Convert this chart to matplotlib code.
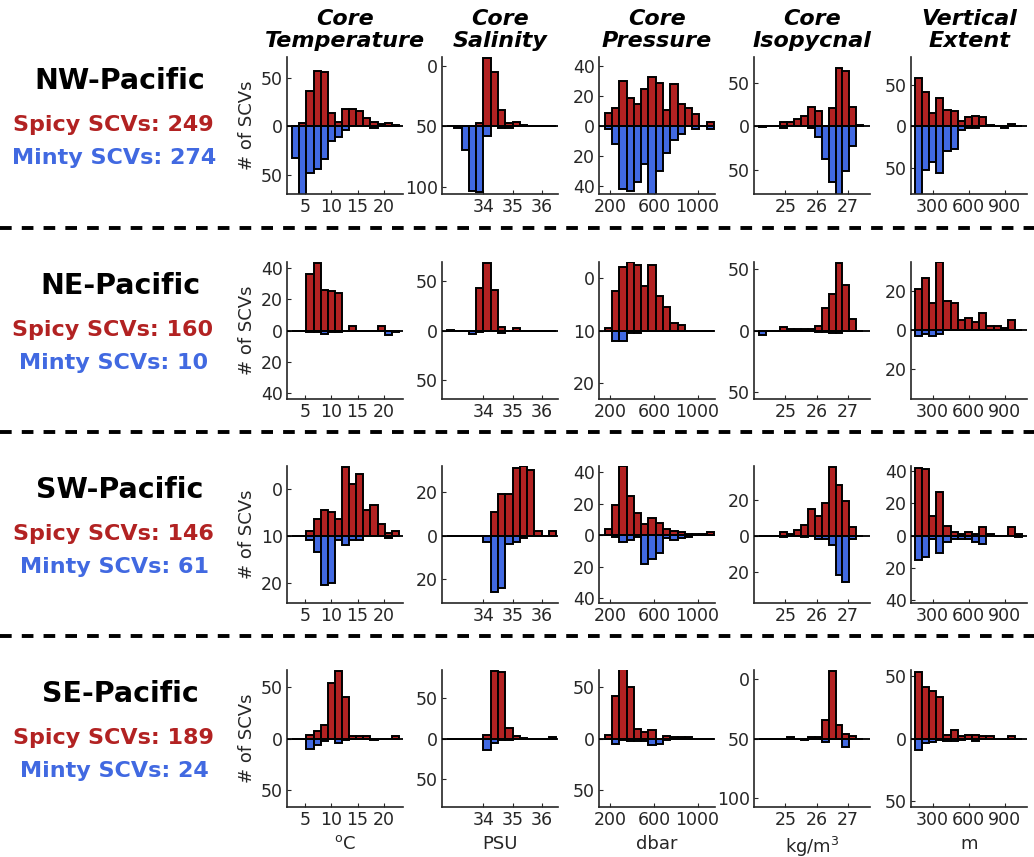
import numpy as np
import matplotlib
matplotlib.use('Agg')
import matplotlib.pyplot as plt
from matplotlib.lines import Line2D

# ---- data -------------------------------------------------------------
regions = ['NW-Pacific', 'NE-Pacific', 'SW-Pacific', 'SE-Pacific']
n_spicy = [249, 160, 146, 189]
n_minty = [274, 10, 61, 24]

col_titles = ['Core\nTemperature', 'Core\nSalinity', 'Core\nPressure',
              'Core\nIsopycnal', 'Vertical\nExtent']
units = [r'$^{\mathrm{o}}$C', 'PSU', 'dbar', r'kg/m$^3$', 'm']

temp_ticks = [5, 10, 15, 20]
sal_ticks = [34, 35, 36]
pres_ticks = [200, 600, 1000]
iso_ticks = [25, 26, 27]
ext_ticks = [300, 600, 900]

# counts per bin (15 bins per variable), spicy = up, minty = down
nw_temp_spicy = [0, 4, 37, 58, 56, 14, 5, 18, 18, 16, 9, 5, 3, 4, 2]
nw_temp_minty = [33, 83, 48, 44, 34, 15, 11, 4, 0, 0, 0, 2, 0, 0, 0]
nw_sal_spicy = [0, 0, 0, 0, 5, 112, 90, 27, 5, 8, 2, 0, 0, 0, 0]
nw_sal_minty = [0, 3, 38, 106, 107, 16, 0, 2, 2, 0, 0, 0, 0, 0, 0]
nw_pres_spicy = [9, 12, 30, 19, 15, 25, 33, 29, 11, 28, 15, 12, 8, 0, 3]
nw_pres_minty = [2, 12, 42, 43, 37, 25, 47, 30, 18, 9, 5, 0, 2, 0, 2]
nw_iso_spicy = [1, 1, 1, 5, 5, 8, 12, 22, 18, 0, 21, 67, 64, 22, 2]
nw_iso_minty = [1, 0, 0, 2, 0, 0, 0, 2, 12, 38, 64, 80, 52, 23, 0]
nw_ext_spicy = [59, 42, 16, 34, 20, 18, 7, 11, 13, 11, 2, 1, 0, 3, 0]
nw_ext_minty = [90, 53, 43, 57, 30, 27, 5, 2, 2, 0, 0, 0, 2, 0, 0]

ne_temp_spicy = [0, 0, 36, 43, 26, 25, 24, 0, 3, 0, 0, 0, 3, 0, 0]
ne_temp_minty = [0, 0, 1, 1, 2, 1, 1, 0, 0, 0, 0, 0, 0, 3, 1]
ne_sal_spicy = [1, 0, 0, 0, 43, 68, 41, 4, 0, 3, 0, 0, 0, 0, 0]
ne_sal_minty = [0, 0, 0, 4, 2, 0, 0, 3, 1, 0, 0, 0, 0, 0, 0]
ne_pres_spicy = [1, 15, 24, 26, 25, 17, 25, 13, 9, 3, 2, 0, 0, 0, 0]
ne_pres_minty = [0, 4, 4, 1, 1, 0, 0, 0, 0, 0, 0, 0, 0, 0, 0]
ne_iso_spicy = [0, 0, 0, 3, 1, 1, 1, 1, 4, 18, 30, 55, 37, 9, 0]
ne_iso_minty = [4, 0, 0, 0, 0, 0, 0, 0, 1, 1, 2, 2, 0, 0, 0]
ne_ext_spicy = [21, 27, 14, 35, 15, 14, 5, 6, 4, 9, 2, 2, 1, 5, 0]
ne_ext_minty = [3, 2, 3, 2, 0, 0, 0, 0, 0, 0, 0, 0, 0, 0, 0]

sw_temp_spicy = [0, 0, 2, 7, 11, 10, 7, 29, 22, 26, 11, 13, 5, 1, 2]
sw_temp_minty = [0, 0, 2, 7, 21, 20, 2, 4, 2, 2, 0, 0, 0, 1, 0]
sw_sal_spicy = [0, 0, 0, 0, 0, 0, 11, 19, 19, 31, 32, 30, 2, 0, 2]
sw_sal_minty = [0, 0, 0, 0, 0, 3, 26, 24, 4, 3, 1, 0, 0, 0, 0]
sw_pres_spicy = [4, 19, 44, 25, 14, 7, 11, 8, 4, 3, 2, 1, 1, 1, 2]
sw_pres_minty = [0, 1, 4, 3, 1, 18, 15, 11, 2, 3, 2, 1, 0, 0, 0]
sw_iso_spicy = [0, 0, 0, 2, 1, 3, 6, 15, 11, 18, 38, 28, 19, 5, 0]
sw_iso_minty = [0, 0, 0, 1, 0, 0, 1, 0, 2, 2, 5, 22, 26, 2, 0]
sw_ext_spicy = [42, 41, 12, 27, 6, 2, 1, 2, 1, 5, 1, 0, 0, 5, 1]
sw_ext_minty = [15, 13, 2, 11, 4, 2, 2, 2, 4, 5, 0, 0, 0, 0, 1]

se_temp_spicy = [0, 0, 3, 7, 13, 53, 65, 40, 2, 2, 2, 0, 0, 0, 2]
se_temp_minty = [0, 0, 10, 6, 2, 0, 4, 1, 0, 0, 0, 1, 0, 0, 0]
se_sal_spicy = [0, 0, 0, 0, 0, 4, 84, 82, 13, 3, 1, 0, 0, 0, 2]
se_sal_minty = [0, 0, 0, 0, 0, 14, 6, 2, 2, 0, 0, 0, 0, 0, 0]
se_pres_spicy = [3, 41, 67, 50, 9, 6, 8, 0, 2, 1, 1, 1, 0, 0, 0]
se_pres_minty = [0, 5, 1, 2, 2, 2, 6, 5, 1, 0, 0, 0, 0, 0, 0]
se_iso_spicy = [0, 0, 0, 0, 2, 0, 0, 3, 3, 31, 115, 23, 8, 4, 0]
se_iso_minty = [0, 0, 0, 0, 0, 0, 3, 1, 0, 6, 0, 0, 14, 0, 0]
se_ext_spicy = [53, 41, 38, 33, 3, 7, 2, 3, 3, 2, 2, 0, 0, 2, 0]
se_ext_minty = [9, 4, 3, 1, 2, 2, 1, 0, 2, 0, 0, 0, 0, 0, 0]

spicy = [[nw_temp_spicy, nw_sal_spicy, nw_pres_spicy, nw_iso_spicy, nw_ext_spicy],
         [ne_temp_spicy, ne_sal_spicy, ne_pres_spicy, ne_iso_spicy, ne_ext_spicy],
         [sw_temp_spicy, sw_sal_spicy, sw_pres_spicy, sw_iso_spicy, sw_ext_spicy],
         [se_temp_spicy, se_sal_spicy, se_pres_spicy, se_iso_spicy, se_ext_spicy]]
minty = [[nw_temp_minty, nw_sal_minty, nw_pres_minty, nw_iso_minty, nw_ext_minty],
         [ne_temp_minty, ne_sal_minty, ne_pres_minty, ne_iso_minty, ne_ext_minty],
         [sw_temp_minty, sw_sal_minty, sw_pres_minty, sw_iso_minty, sw_ext_minty],
         [se_temp_minty, se_sal_minty, se_pres_minty, se_iso_minty, se_ext_minty]]

# y ticks as printed on the original (labels do not always match positions)
ytick_pos = [[[-50, 0, 50], [-100, 0, 100], [-40, -20, 0, 20, 40], [-50, 0, 50], [-50, 0, 50]],
             [[-40, -20, 0, 20, 40], [-50, 0, 50], [-20, 0, 20], [-50, 0, 50], [-20, 0, 20]],
             [[-20, 0, 20], [-20, 0, 20], [-40, -20, 0, 20, 40], [-20, 0, 20], [-40, -20, 0, 20, 40]],
             [[-50, 0, 50], [-50, 0, 50], [-50, 0, 50], [-100, 0, 100], [-50, 0, 50]]]
ytick_odd = {(0, 1): ['100', '50', '0'], (1, 2): ['20', '10', '0'],
             (2, 0): ['20', '10', '0'], (3, 3): ['100', '50', '0']}

# ---- layout -------------------------------------------------------------
RED = '#B22222'
BLUE = '#4169E1'
GREY = '#262626'

W, H = 1034, 857
col_x = [287, 442, 599, 754, 911]
ax_w = 116
row_y = [57, 262, 466, 670]
ax_h = 137

xticks = [temp_ticks, sal_ticks, pres_ticks, iso_ticks, ext_ticks]
bin_start = [2.5, 32.75, 150, 24.17, 152]
bin_width = [1.36, 0.25, 66.7, 0.221, 59.5]
xlims = [(1.5, 23.7), (32.58, 36.56), (98, 1160), (24.0, 27.7), (120, 1085)]
ylims = [[(-70, 72), (-111, 114), (-45, 46), (-78, 80), (-82, 84)],
         [(-43.6, 43.6), (-69, 69), (-26, 26), (-56, 56), (-35.5, 35)],
         [(-28.6, 29.6), (-31, 32), (-43, 44), (-37.4, 38.7), (-41.7, 43)],
         [(-66, 66), (-85, 85), (-66.5, 66.5), (-116, 116), (-55, 55)]]

fig = plt.figure(figsize=(W / 100, H / 100), dpi=100)

for r in range(4):
    for c in range(5):
        ax = fig.add_axes([col_x[c] / W, 1 - (row_y[r] + ax_h) / H, ax_w / W, ax_h / H])
        n = len(spicy[r][c])
        centers = bin_start[c] + bin_width[c] * (np.arange(n) + 0.5)
        ax.bar(centers, spicy[r][c], bin_width[c], color=RED, edgecolor='k', lw=1.4, zorder=2)
        ax.bar(centers, -np.array(minty[r][c]), bin_width[c], color=BLUE, edgecolor='k', lw=1.4, zorder=2)
        ax.axhline(0, color='k', lw=1.3, zorder=3)
        ax.set_xlim(*xlims[c])
        ax.set_ylim(*ylims[r][c])
        ax.set_xticks(xticks[c])
        ax.set_yticks(ytick_pos[r][c])
        labels = ytick_odd.get((r, c), [str(abs(v)) for v in ytick_pos[r][c]])
        ax.set_yticklabels(labels)
        for s in ['top', 'right']:
            ax.spines[s].set_visible(False)
        for s in ['left', 'bottom']:
            ax.spines[s].set_color(GREY)
            ax.spines[s].set_linewidth(1.2)
        ax.tick_params(direction='in', length=3, width=0.8, labelsize=12.5,
                       colors=GREY, pad=3)
        if r == 3:
            ax.set_xlabel(units[c], fontsize=13, color=GREY, labelpad=4)

for c in range(5):
    fig.text((col_x[c] + ax_w / 2) / W, 1 - 30 / H, col_titles[c], ha='center', va='center',
             fontsize=16, fontweight='bold', fontstyle='italic', linespacing=1.15)

for r in range(4):
    fig.text(247 / W, 1 - (row_y[r] + ax_h / 2) / H, '# of SCVs', rotation=90,
             ha='center', va='center', fontsize=13, color=GREY)
    top = row_y[r] + 24
    fig.text(120 / W, 1 - top / H, regions[r], ha='center', va='center',
             fontsize=20.5, fontweight='bold')
    fig.text(113 / W, 1 - (top + 44) / H, 'Spicy SCVs: %d' % n_spicy[r], ha='center',
             va='center', fontsize=16, fontweight='bold', color=RED)
    fig.text(114 / W, 1 - (top + 77) / H, 'Minty SCVs: %d' % n_minty[r], ha='center',
             va='center', fontsize=16, fontweight='bold', color=BLUE)

for y in [228, 432, 636]:
    fig.add_artist(Line2D([0, 1], [1 - y / H, 1 - y / H], transform=fig.transFigure,
                          color='k', lw=2.8, ls=(0, (3, 2.6))))

fig.savefig('out.png', dpi=100)
